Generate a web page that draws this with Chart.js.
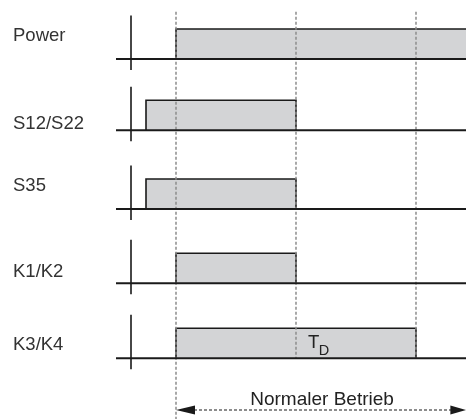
<!DOCTYPE html>
<html>
<head>
<meta charset="utf-8">
<script src="https://cdn.jsdelivr.net/npm/chart.js@4.4.0/dist/chart.umd.min.js"></script>
<style>
html,body{margin:0;padding:0;background:#fff;}
#c{display:block;}
</style>
</head>
<body>
<canvas id="c" width="466" height="419"></canvas>
<script>
// ---- data (time units: dashed markers at t = 1, 2, 3; row levels downward) ----
const signals   = ["Power", "S12/S22", "S35", "K1/K2", "K3/K4"];
const rowLevel  = [0, 0.95, 2.0, 2.99, 3.99];   // baseline level of each row
const riseTime  = [1, 0.75, 0.75, 1, 1];
const fallTime  = [3.6, 2, 2, 2, 3];            // Power stays on past the right edge
const pulseHigh = 0.4;
const markerTimes = [1, 2, 3];
const markerLabel = "T";
const markerSub   = "D";
const spanLabel   = "Normaler Betrieb";
const spanStart   = 1;
const spanEnd     = 3.42;

// ---- layout ----
const X_MIN = -0.4667, X_MAX = 3.4167, Y_MIN = -0.7867, Y_MAX = 4.8;
const axisTime = 0.625, baseStart = 0.5;
const labelLevel = [-0.24, 0.927, 1.76, 2.907, 3.88];
const FONT = '"Liberation Sans", Arial, sans-serif';

const datasets = [];
signals.forEach((s, i) => {
  const b = rowLevel[i];
  // pulse
  datasets.push({
    data: [{x: riseTime[i], y: b}, {x: riseTime[i], y: b - pulseHigh},
           {x: fallTime[i], y: b - pulseHigh}, {x: fallTime[i], y: b}],
    borderColor: '#1a1a1a', borderWidth: 1.6, backgroundColor: '#d3d4d6',
    fill: {value: b}, order: 3
  });
  // baseline
  datasets.push({
    data: [{x: baseStart, y: b}, {x: X_MAX + 0.1, y: b}],
    borderColor: '#1a1a1a', borderWidth: 1.8, fill: false, order: 1
  });
  // axis tick
  datasets.push({
    data: [{x: axisTime, y: b + 0.147}, {x: axisTime, y: b - 0.58}],
    borderColor: '#1a1a1a', borderWidth: 1.6, fill: false, order: 1
  });
});
// dashed vertical markers
markerTimes.forEach((t, k) => {
  datasets.push({
    data: [{x: t, y: -0.63}, {x: t, y: k === 0 ? Y_MAX : rowLevel[4]}],
    borderColor: '#8c8c8c', borderWidth: 1.5, borderDash: [3, 2], fill: false, order: 2
  });
});
// span arrow shaft
const arrowLevel = 4.68;
datasets.push({
  data: [{x: spanStart + 0.15, y: arrowLevel}, {x: spanEnd - 0.11, y: arrowLevel}],
  borderColor: '#1a1a1a', borderWidth: 1.2, borderDash: [3, 2], fill: false, order: 1
});

const annot = {
  id: 'annot',
  afterDatasetsDraw(chart) {
    const ctx = chart.ctx, xs = chart.scales.x, ys = chart.scales.y;
    ctx.save();
    ctx.fillStyle = '#333';
    ctx.textBaseline = 'alphabetic';
    ctx.font = '18.5px ' + FONT;
    ctx.textAlign = 'left';
    signals.forEach((s, i) => ctx.fillText(s, 13, ys.getPixelForValue(labelLevel[i])));
    // T_D
    ctx.fillStyle = '#222';
    const tx = xs.getPixelForValue(2.1), ty = ys.getPixelForValue(3.857);
    ctx.font = '18.5px ' + FONT;
    ctx.fillText(markerLabel, tx, ty);
    const tw = ctx.measureText(markerLabel).width;
    ctx.font = '14.5px ' + FONT;
    ctx.fillText(markerSub, tx + tw - 0.5, ty + 6.5);
    // span label
    ctx.font = '19px ' + FONT;
    ctx.textAlign = 'center';
    ctx.fillStyle = '#222';
    ctx.fillText(spanLabel, xs.getPixelForValue(2.217), ys.getPixelForValue(4.613));
    // arrow heads
    const ay = ys.getPixelForValue(arrowLevel);
    const x0 = xs.getPixelForValue(spanStart), x1 = xs.getPixelForValue(spanEnd);
    ctx.fillStyle = '#1a1a1a';
    ctx.beginPath();
    ctx.moveTo(x0, ay); ctx.lineTo(x0 + 19, ay - 4.5); ctx.lineTo(x0 + 19, ay + 4.5); ctx.closePath();
    ctx.fill();
    ctx.beginPath();
    ctx.moveTo(x1, ay); ctx.lineTo(x1 - 16, ay - 4.5); ctx.lineTo(x1 - 16, ay + 4.5); ctx.closePath();
    ctx.fill();
    ctx.restore();
  }
};

new Chart(document.getElementById('c'), {
  type: 'line',
  data: {datasets},
  options: {
    responsive: false,
    animation: false,
    layout: {padding: 0},
    elements: {point: {radius: 0, hoverRadius: 0}, line: {tension: 0}},
    plugins: {legend: {display: false}, tooltip: {enabled: false}},
    events: [],
    scales: {
      x: {type: 'linear', min: X_MIN, max: X_MAX, display: false},
      y: {type: 'linear', min: Y_MIN, max: Y_MAX, reverse: true, display: false}
    }
  },
  plugins: [annot]
});
</script>
</body>
</html>
